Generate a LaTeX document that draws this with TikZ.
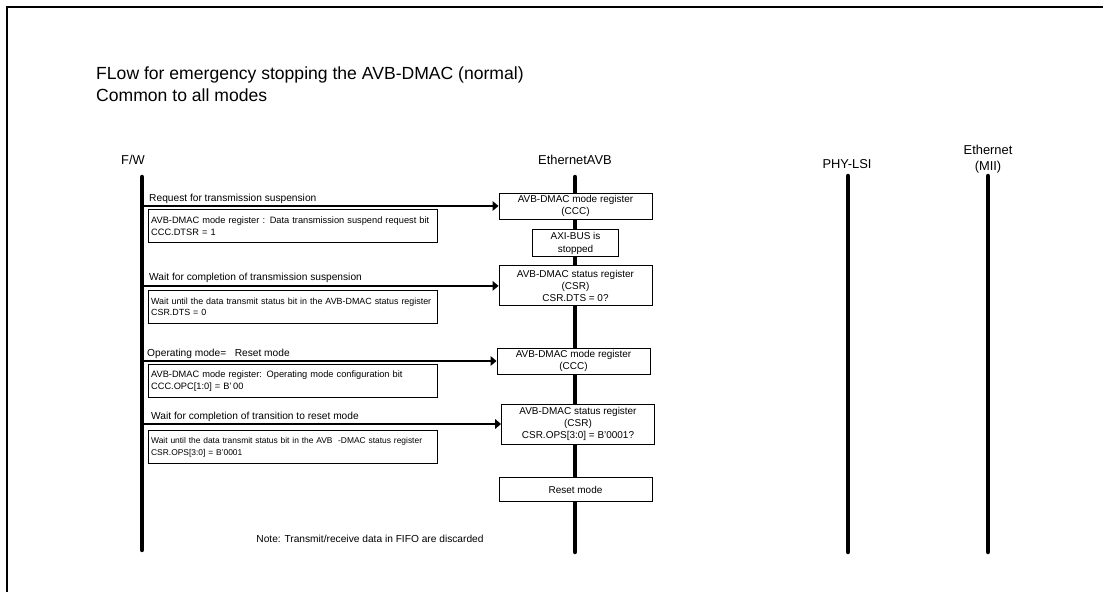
\documentclass[tikz,border=0pt]{standalone}
\usepackage{fontspec}
\setmainfont{Liberation Sans}
\usetikzlibrary{arrows.meta,positioning}
\tikzset{
  lifeline/.style={line width=3.8pt,line cap=round},
  msg/.style={-{Triangle[length=5pt,width=8pt]},line width=1.9pt},
  actor/.style={font=\fontsize{11}{13.5}\selectfont,align=center,inner sep=0pt},
  headline/.style={font=\fontsize{15}{19}\selectfont,align=left,inner sep=0pt},
  msglabel/.style={font=\fontsize{8.7}{10}\selectfont,inner sep=0pt},
  regbox/.style={draw,fill=white,line width=0.8pt,minimum width=4.59cm,
    minimum height=0.78cm,align=center,inner sep=1pt,
    font=\fontsize{8.5}{10.5}\selectfont},
  smallbox/.style={regbox,minimum width=2.58cm,minimum height=0.81cm},
  notebox/.style={draw,fill=white,line width=0.8pt,text width=8.5cm,
    minimum height=0.99cm,align=left,inner xsep=0.08cm,inner ysep=1pt,
    font=\fontsize{7.9}{10}\selectfont}
}
\begin{document}
\begin{tikzpicture}[x=0.03cm,y=-0.03cm]
  \useasboundingbox (0,0) rectangle (1103,592);
  \draw[line width=1.7pt] (7,592) -- (7,7) -- (1103,7);

  \node[headline,anchor=west] (title) at (96,84)
    {FLow for emergency stopping the AVB-DMAC (normal)\\Common to all modes};

  % actors and lifelines
  \node[actor] (fw) at (133,160) {F/W};
  \node[actor] (avb) at (575,160) {EthernetAVB};
  \node[actor] (phy) at (847,164) {PHY-LSI};
  \node[actor] (mii) at (988,159) {Ethernet\\(MII)};
  \coordinate (fwtop) at (142,177);
  \coordinate (fwbot) at (142,550);
  \coordinate (avbtop) at (575,177);
  \coordinate (avbbot) at (575,552);
  \coordinate (phytop) at (848,176);
  \coordinate (phybot) at (848,552);
  \coordinate (miitop) at (988,176);
  \coordinate (miibot) at (988,552);
  \draw[lifeline] (fwtop) -- (fwbot);
  \draw[lifeline] (avbtop) -- (avbbot);
  \draw[lifeline] (phytop) -- (phybot);
  \draw[lifeline] (miitop) -- (miibot);

  % EthernetAVB side
  \node[regbox] (ccc1) at (575.5,206) {AVB-DMAC mode register\\(CCC)};
  \node[smallbox,below=0.3cm of ccc1] (axi) {AXI-BUS is\\stopped};
  \node[regbox,minimum height=1.2cm,below=0.24cm of axi] (csr1)
    {AVB-DMAC status register\\(CSR)\\CSR.DTS = 0?};
  \node[regbox] (ccc2) at (573.5,361) {AVB-DMAC mode register\\(CCC)};
  \node[regbox,minimum height=1.2cm] (csr2) at (578,424)
    {AVB-DMAC status register\\(CSR)\\CSR.OPS[3:0] = B’0001?};
  \node[regbox,minimum height=0.72cm,below=0.99cm of csr2.south,anchor=north,xshift=-0.075cm] (reset)
    {Reset mode};

  % F/W side
  \coordinate (f1) at (fwtop |- ccc1);
  \coordinate (f2) at (fwtop |- csr1);
  \coordinate (f3) at (fwtop |- ccc2);
  \coordinate (f4) at (fwtop |- csr2);

  \draw[msg] (f1) -- (ccc1.west);
  \draw[msg] (f2) -- (csr1.west);
  \draw[msg] (f3) -- (ccc2.west);
  \draw[msg] (f4) -- (csr2.west);

  \node[msglabel,anchor=base west] (req) at ([shift={(7,-5)}]f1)
    {Request for transmission suspension};
  \node[msglabel,anchor=base west] (waitsus) at ([shift={(7,-5)}]f2)
    {Wait for completion of transmission suspension};
  \node[msglabel,anchor=base west] (opmode) at ([shift={(5,-5)}]f3)
    {Operating mode= \ \ Reset mode};
  \node[msglabel,anchor=base west] (waitrst) at ([shift={(9,-5)}]f4)
    {Wait for completion of transition to reset mode};

  \node[notebox,below right=0.09cm and 0.18cm of f1] (dtsr)
    {AVB-DMAC mode register : Data transmission suspend request bit\\CCC.DTSR = 1};
  \node[notebox,below right=0.12cm and 0.18cm of f2,font=\fontsize{7.6}{10}\selectfont] (dts)
    {Wait until the data transmit status bit in the AVB-DMAC status register\\CSR.DTS = 0};
  \node[notebox,below right=0.09cm and 0.18cm of f3] (opc)
    {AVB-DMAC mode register: Operating mode configuration bit\\CCC.OPC[1:0] = B’\,00};
  \node[notebox,below right=0.18cm and 0.18cm of f4,font=\fontsize{7.2}{10}\selectfont] (ops)
    {Wait until the data transmit status bit in the AVB \ -DMAC status register\\CSR.OPS[3:0] = B’0001};

  \node[msglabel] (note) at (370,539)
    {Note: Transmit/receive data in FIFO are discarded};
\end{tikzpicture}
\end{document}
